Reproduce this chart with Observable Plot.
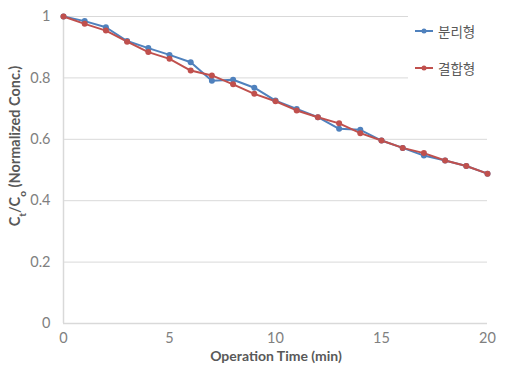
<!DOCTYPE html>
<html>
<head>
<meta charset="utf-8">
<script src="https://cdn.jsdelivr.net/npm/d3@7"></script>
<script src="https://cdn.jsdelivr.net/npm/@observablehq/plot@0.6"></script>
<style>
  html, body { margin: 0; padding: 0; background: #fff; }
  #wrap { position: relative; width: 505px; height: 384px; }
  #legend { position: absolute; left: 408px; top: 8px; width: 97px; height: 92px; background: #fff;
            font-family: "Noto Sans CJK KR", sans-serif; font-size: 13.5px; color: #595959; }
  .row { position: absolute; left: 6px; display: flex; align-items: center; }
  .row svg { margin-right: 4px; }
</style>
</head>
<body>
<div id="wrap"></div>
<script>
const times = d3.range(0, 21);
const seriesNames = ["분리형", "결합형"];
const separated = [1.0, 0.985, 0.965, 0.92, 0.897, 0.875, 0.851, 0.791, 0.794, 0.768, 0.726,
                   0.699, 0.672, 0.634, 0.631, 0.596, 0.572, 0.547, 0.531, 0.513, 0.488];
const combined  = [1.0, 0.976, 0.954, 0.918, 0.884, 0.862, 0.824, 0.808, 0.779, 0.748, 0.724,
                   0.694, 0.672, 0.652, 0.620, 0.596, 0.572, 0.555, 0.531, 0.513, 0.488];
const colors = ["#4F81BD", "#C0504D"];
const xTicks = [0, 5, 10, 15, 20];
const yTicks = [0, 0.2, 0.4, 0.6, 0.8, 1];

const data = [];
times.forEach((t, i) => {
  data.push({t, v: separated[i], s: seriesNames[0]});
  data.push({t, v: combined[i], s: seriesNames[1]});
});

const fmt = d => String(+d.toFixed(1));

const chart = Plot.plot({
  width: 505,
  height: 384,
  marginLeft: 63,
  marginRight: 18,
  marginTop: 16,
  marginBottom: 61,
  style: { fontFamily: "Lato, 'Open Sans', sans-serif", fontSize: "14.5px", color: "#808080", background: "#fff" },
  x: { domain: [0, 20], label: null },
  y: { domain: [0, 1], label: null },
  color: { domain: seriesNames, range: colors },
  marks: [
    Plot.gridY(yTicks, { stroke: "#d9d9d9", strokeOpacity: 1, strokeWidth: 1 }),
    Plot.ruleX([0], { stroke: "#d9d9d9", strokeWidth: 1.5 }),
    Plot.ruleY([0], { stroke: "#d9d9d9", strokeWidth: 1.5 }),
    Plot.axisX({ ticks: xTicks, tickSize: 0, tickPadding: 9, label: null, tickFormat: fmt }),
    Plot.axisY({ ticks: yTicks, tickSize: 0, tickPadding: 13, label: null, tickFormat: fmt }),
    Plot.line(data, { x: "t", y: "v", z: "s", stroke: "s", strokeWidth: 2 }),
    Plot.dot(data, { x: "t", y: "v", fill: "s", r: 3 })
  ]
});

const wrap = document.getElementById("wrap");
wrap.appendChild(chart);

const svg = d3.select(chart);
// y-axis title with subscripts
const yl = svg.append("text")
  .attr("transform", "translate(20,146) rotate(-90)")
  .attr("text-anchor", "middle")
  .attr("fill", "#595959")
  .style("font-family", "Lato, 'Open Sans', sans-serif")
  .style("font-size", "14.5px")
  .style("font-weight", "bold");
yl.append("tspan").text("C");
yl.append("tspan").attr("baseline-shift", "sub").style("font-size", "10px").text("t");
yl.append("tspan").text("/C");
yl.append("tspan").attr("baseline-shift", "sub").style("font-size", "10px").text("o");
yl.append("tspan").text(" (Normalized Conc.)");

// x-axis title
svg.append("text")
  .attr("x", 276).attr("y", 361)
  .attr("text-anchor", "middle")
  .attr("fill", "#595959")
  .style("font-family", "Lato, 'Open Sans', sans-serif")
  .style("font-size", "14px")
  .style("font-weight", "bold")
  .text("Operation Time (min)");

// legend
const legend = document.createElement("div");
legend.id = "legend";
seriesNames.forEach((name, i) => {
  const row = document.createElement("div");
  row.className = "row";
  row.style.top = (i === 0 ? 13 : 50) + "px";
  row.innerHTML = `<svg width="20" height="10"><line x1="1" y1="5" x2="19" y2="5" stroke="${colors[i]}" stroke-width="2"/><circle cx="10" cy="5" r="2.5" fill="${colors[i]}"/></svg><span>${name}</span>`;
  legend.appendChild(row);
});
wrap.appendChild(legend);
</script>
</body>
</html>
